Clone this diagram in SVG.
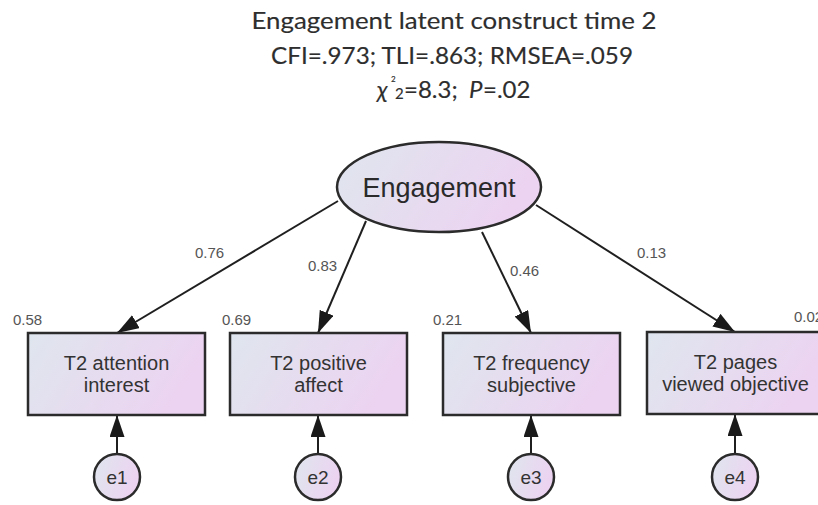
<svg xmlns="http://www.w3.org/2000/svg" width="818" height="505" viewBox="0 0 818 505">
<defs>
<linearGradient id="fillG" x1="0" y1="0" x2="1" y2="0.3">
<stop offset="0" stop-color="#dfe6ee"/>
<stop offset="1" stop-color="#ecd3f1"/>
</linearGradient>
<marker id="arr" markerUnits="userSpaceOnUse" markerWidth="24" markerHeight="16" refX="22" refY="7.5" orient="auto">
<path d="M0,0 L22,7.5 L0,15 z" fill="#1a1a1a"/>
</marker>
</defs>
<style>
.title{font-family:Lato,"Open Sans",sans-serif;font-size:24px;fill:#2e2e2e;stroke:#2e2e2e;stroke-width:0.15;text-anchor:middle}
.node{fill:url(#fillG);stroke:#2b2b2b;stroke-width:2.5}
.lbl{font-family:"Liberation Sans",Arial,sans-serif;font-size:20px;fill:#333;text-anchor:middle}
.big{font-family:"Liberation Sans",Arial,sans-serif;font-size:27px;fill:#2a2a2a;text-anchor:middle}
.num{font-family:"Liberation Sans",Arial,sans-serif;font-size:15px;fill:#555}
.edge{stroke:#1f1f1f;stroke-width:2;fill:none;marker-end:url(#arr)}
</style>
<rect width="818" height="505" fill="#ffffff"/>
<g id="title">
<text class="title" x="454" y="29" textLength="405" lengthAdjust="spacingAndGlyphs">Engagement latent construct time 2</text>
<text class="title" x="452" y="64" textLength="362" lengthAdjust="spacingAndGlyphs">CFI=.973; TLI=.863; RMSEA=.059</text>
<text class="title" style="text-anchor:start" y="98"><tspan x="377" font-style="italic">χ</tspan><tspan x="391" y="82" font-size="8">2</tspan><tspan x="395" y="99" font-size="15">2</tspan><tspan x="404" y="98">=8.3; </tspan><tspan x="469" font-style="italic">P</tspan><tspan x="483">=.02</tspan></text>
</g>
<g id="connectors">
<line class="edge" x1="338" y1="201" x2="117" y2="333"/>
<line class="edge" x1="366" y1="221" x2="318" y2="333"/>
<line class="edge" x1="482" y1="232" x2="531" y2="333"/>
<line class="edge" x1="536" y1="205" x2="735" y2="332"/>
<line class="edge" x1="117" y1="454" x2="117" y2="415"/>
<line class="edge" x1="318" y1="454" x2="318" y2="415"/>
<line class="edge" x1="531" y1="454" x2="531" y2="415"/>
<line class="edge" x1="735" y1="454" x2="735" y2="414"/>
<text class="num" x="195" y="258">0.76</text>
<text class="num" x="308" y="271">0.83</text>
<text class="num" x="510" y="276">0.46</text>
<text class="num" x="637" y="258">0.13</text>
</g>
<g id="engagement">
<ellipse class="node" cx="439" cy="187" rx="102" ry="45"/>
<text class="big" x="439" y="197">Engagement</text>
</g>
<g id="t2-attention">
<rect class="node" x="28" y="333" width="177" height="82"/>
<text class="lbl" x="116.5" y="370">T2 attention</text>
<text class="lbl" x="116.5" y="392">interest</text>
<text class="num" x="13" y="325">0.58</text>
</g>
<g id="t2-positive">
<rect class="node" x="230" y="333" width="177" height="82"/>
<text class="lbl" x="318.5" y="370">T2 positive</text>
<text class="lbl" x="318.5" y="392">affect</text>
<text class="num" x="222" y="325">0.69</text>
</g>
<g id="t2-frequency">
<rect class="node" x="443" y="333" width="177" height="82"/>
<text class="lbl" x="531.5" y="370">T2 frequency</text>
<text class="lbl" x="531.5" y="392">subjective</text>
<text class="num" x="433" y="325">0.21</text>
</g>
<g id="t2-pages">
<rect class="node" x="647" y="332" width="177" height="82"/>
<text class="lbl" x="735.5" y="369">T2 pages</text>
<text class="lbl" x="735.5" y="391">viewed objective</text>
<text class="num" x="794" y="322">0.02</text>
</g>
<g id="e1">
<circle class="node" cx="117" cy="477" r="23"/>
<text class="lbl" x="117" y="484" style="font-size:19px">e1</text>
</g>
<g id="e2">
<circle class="node" cx="318" cy="477" r="23"/>
<text class="lbl" x="318" y="484" style="font-size:19px">e2</text>
</g>
<g id="e3">
<circle class="node" cx="531" cy="477" r="23"/>
<text class="lbl" x="531" y="484" style="font-size:19px">e3</text>
</g>
<g id="e4">
<circle class="node" cx="735" cy="477" r="23"/>
<text class="lbl" x="735" y="484" style="font-size:19px">e4</text>
</g>
</svg>
